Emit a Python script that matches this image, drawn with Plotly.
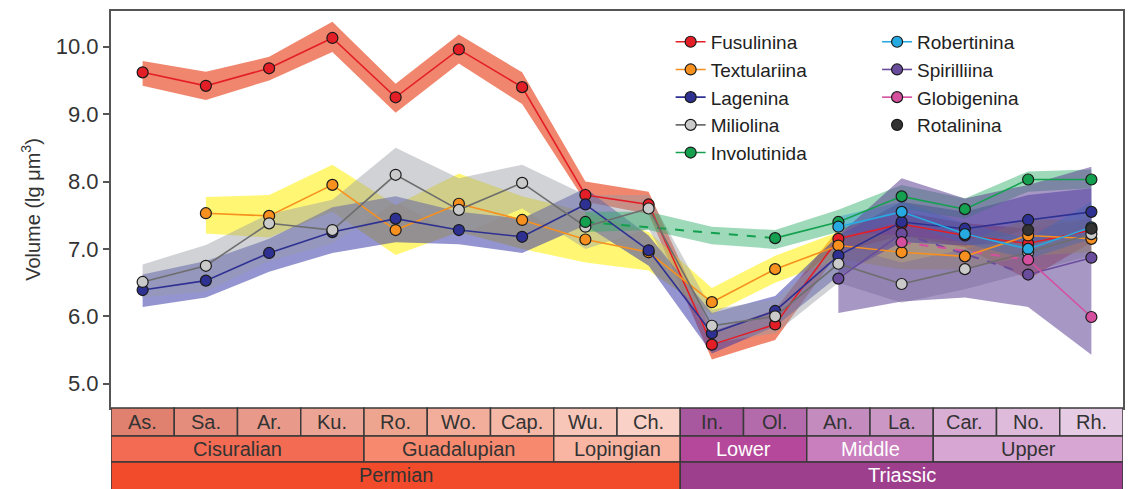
import plotly.graph_objects as go

# ---------------- data ----------------
stages = ["As.", "Sa.", "Ar.", "Ku.", "Ro.", "Wo.", "Cap.", "Wu.", "Ch.",
          "In.", "Ol.", "An.", "La.", "Car.", "No.", "Rh."]
epochs = ["Cisuralian", "Guadalupian", "Lopingian", "Lower", "Middle", "Upper"]
epoch_spans = [(0, 3), (4, 6), (7, 8), (9, 10), (11, 12), (13, 15)]
periods = ["Permian", "Triassic"]
period_spans = [(0, 8), (9, 15)]
yticks = [5.0, 6.0, 7.0, 8.0, 9.0, 10.0]

N = None
fus_mean = [9.62, 9.42, 9.68, 10.13, 9.25, 9.96, 9.40, 7.80, 7.66, 5.58, 5.88, 7.15, 7.37, 7.20, 7.08, 7.28]
fus_lo   = [9.42, 9.21, 9.50, 9.92, 9.02, 9.75, 9.15, 7.70, 7.52, 5.36, 5.65, 6.95, 7.20, 7.02, 6.55, 7.10]
fus_hi   = [9.79, 9.63, 9.85, 10.37, 9.45, 10.18, 9.62, 8.00, 7.85, 5.78, 6.10, 7.30, 7.55, 7.38, 7.30, 7.45]

tex_mean = [N, 7.53, 7.49, 7.95, 7.28, 7.67, 7.43, 7.14, 6.95, 6.21, 6.70, 7.05, 6.95, 6.89, 7.20, 7.15]
tex_lo   = [N, 7.23, 7.17, 7.55, 6.91, 7.25, 7.00, 6.80, 6.68, 6.03, 6.50, 6.85, 6.70, 6.70, 6.90, 6.95]
tex_hi   = [N, 7.77, 7.80, 8.25, 7.65, 8.12, 7.78, 7.55, 7.25, 6.42, 6.90, 7.25, 7.20, 7.10, 7.45, 7.40]

lag_mean = [6.39, 6.53, 6.94, 7.25, 7.45, 7.28, 7.18, 7.66, 6.98, 5.75, 6.08, 6.90, 7.40, 7.30, 7.43, 7.55]
lag_lo   = [6.14, 6.28, 6.66, 6.94, 7.10, 7.07, 6.94, 7.35, 6.75, 5.45, 5.85, 6.60, 7.10, 7.05, 7.10, 7.20]
lag_hi   = [6.62, 6.82, 7.15, 7.62, 7.78, 7.55, 7.45, 7.90, 7.20, 6.05, 6.30, 7.20, 7.70, 7.55, 7.80, 7.90]

mil_mean = [6.51, 6.75, 7.38, 7.28, 8.10, 7.58, 7.98, 7.33, 7.60, 5.86, 6.00, 6.78, 6.48, 6.70, 6.95, 7.22]
mil_lo   = [6.28, 6.37, 6.82, 7.08, 7.70, 7.20, 7.60, 7.00, 7.30, 5.60, 5.75, 6.50, 6.20, 6.40, 6.65, 6.90]
mil_hi   = [6.77, 7.06, 7.52, 7.73, 8.50, 8.05, 8.25, 7.80, 7.80, 6.10, 6.25, 7.05, 6.80, 7.00, 7.30, 7.50]

inv_mean = [N, N, N, N, N, N, N, 7.40, N, N, 7.16, 7.40, 7.78, 7.59, 8.03, 8.03]
inv_lo   = [N, N, N, N, N, N, N, 7.25, 7.28, 7.07, 7.00, 7.25, 7.60, 7.45, 7.85, 7.90]
inv_hi   = [N, N, N, N, N, N, N, 7.55, 7.55, 7.33, 7.28, 7.58, 7.95, 7.75, 8.15, 8.18]

rob_mean = [N] * 11 + [7.33, 7.55, 7.22, 7.00, 7.32]
rob_lo   = [N] * 11 + [7.18, 7.40, 7.08, 6.85, 7.15]
rob_hi   = [N] * 11 + [7.48, 7.70, 7.38, 7.15, 7.70]

spi_mean = [N] * 11 + [6.56, 7.23, N, 6.62, 6.87]
spi_lo   = [N] * 11 + [6.05, 6.22, 6.28, 6.14, 5.43]
spi_hi   = [N] * 11 + [7.20, 8.05, 7.75, 7.95, 8.22]

glo_mean = [N] * 12 + [7.10, N, 6.84, 5.99]

rot_mean = [N] * 14 + [7.28, 7.30]

# ---------------- styling ----------------
FONT = "Liberation Sans, Arial, sans-serif"
x_idx = list(range(len(stages)))

series = [
    dict(name="Fusulinina", mean=fus_mean, lo=fus_lo, hi=fus_hi, line="#E41E26", fill="#E41E26",
         band="rgba(234,88,52,0.72)", legend="legend"),
    dict(name="Textulariina", mean=tex_mean, lo=tex_lo, hi=tex_hi, line="#F7901E", fill="#F7901E",
         band="rgba(255,240,0,0.55)", legend="legend"),
    dict(name="Lagenina", mean=lag_mean, lo=lag_lo, hi=lag_hi, line="#2E3192", fill="#2E3192",
         band="rgba(60,60,170,0.55)", legend="legend"),
    dict(name="Miliolina", mean=mil_mean, lo=mil_lo, hi=mil_hi, line="#6E6E6E", fill="#CACACA",
         band="rgba(150,155,165,0.45)", legend="legend"),
    dict(name="Involutinida", mean=inv_mean, lo=inv_lo, hi=inv_hi, line="#14A04F", fill="#14A04F",
         band="rgba(40,170,100,0.45)", legend="legend"),
    dict(name="Robertinina", mean=rob_mean, lo=rob_lo, hi=rob_hi, line="#27AAE1", fill="#27AAE1",
         band="rgba(30,150,220,0.40)", legend="legend2"),
    dict(name="Spirilliina", mean=spi_mean, lo=spi_lo, hi=spi_hi, line="#6A4C9C", fill="#6A4C9C",
         band="rgba(95,65,150,0.55)", legend="legend2"),
    dict(name="Globigenina", mean=glo_mean, lo=None, hi=None, line="#D4509F", fill="#D4509F",
         band=None, legend="legend2"),
]

fig = go.Figure()

# confidence bands
for s in series:
    if s["lo"] is None:
        continue
    xs = [i for i in x_idx if s["lo"][i] is not None]
    up = [s["hi"][i] for i in xs]
    dn = [s["lo"][i] for i in xs]
    fig.add_trace(go.Scatter(
        x=xs + xs[::-1], y=up + dn[::-1], fill="toself", mode="lines",
        line=dict(width=0), fillcolor=s["band"], showlegend=False, hoverinfo="skip"))

# dashed bridges over gaps
for s in series:
    valid = [i for i in x_idx if s["mean"][i] is not None]
    for a, b in zip(valid[:-1], valid[1:]):
        if b - a > 1:
            fig.add_trace(go.Scatter(
                x=[a, b], y=[s["mean"][a], s["mean"][b]], mode="lines",
                line=dict(color=s["line"], width=2, dash="dash"),
                showlegend=False, hoverinfo="skip"))

# main lines
for s in series:
    fig.add_trace(go.Scatter(
        x=x_idx, y=s["mean"], name=s["name"], mode="lines+markers",
        line=dict(color=s["line"], width=1.6),
        marker=dict(size=11, color=s["fill"], line=dict(color="#1a1a1a", width=1.2)),
        legend=s["legend"]))

fig.add_trace(go.Scatter(
    x=x_idx, y=rot_mean, name="Rotalinina", mode="markers",
    marker=dict(size=11, color="#333333", line=dict(color="#1a1a1a", width=1.2)),
    legend="legend2"))

# ---------------- geological time scale ----------------
stage_colors = ["#E0806E", "#E58D7D", "#E9998A", "#ECA494", "#EEA58F", "#F2AE9B", "#F5B7A6", "#F8C6B9", "#FAD1C6",
                "#A8589E", "#B46BAB", "#C48BBF", "#CB98C6", "#D8AED5", "#DEBADB", "#E6CBE4"]
epoch_colors = ["#F26B52", "#F6896E", "#F9B5A1", "#B5489A", "#C97EBE", "#D8A6D2"]
epoch_text = ["#333333", "#333333", "#333333", "#FFFFFF", "#FFFFFF", "#333333"]
period_colors = ["#F24B2B", "#9E3F8E"]
period_text = ["#333333", "#FFFFFF"]

PH = 397.0
r1 = (-28 / PH, 0.0)
r2 = (-54 / PH, -28 / PH)
r3 = (-100 / PH, -54 / PH)
border = dict(color="#3a3a3a", width=1.5)

shapes = []
annotations = []
for i, (lab, col) in enumerate(zip(stages, stage_colors)):
    shapes.append(dict(type="rect", xref="x", yref="paper", x0=i - 0.5, x1=i + 0.5,
                       y0=r1[0], y1=r1[1], fillcolor=col, line=border, layer="above"))
    annotations.append(dict(xref="x", yref="paper", x=i, y=(r1[0] + r1[1]) / 2, text=lab,
                            showarrow=False, font=dict(size=20, color="#333333", family=FONT),
                            yanchor="middle"))
for lab, (a, b), col, tc in zip(epochs, epoch_spans, epoch_colors, epoch_text):
    shapes.append(dict(type="rect", xref="x", yref="paper", x0=a - 0.5, x1=b + 0.5,
                       y0=r2[0], y1=r2[1], fillcolor=col, line=border, layer="above"))
    annotations.append(dict(xref="x", yref="paper", x=(a + b) / 2, y=(r2[0] + r2[1]) / 2, text=lab,
                            showarrow=False, font=dict(size=20, color=tc, family=FONT),
                            yanchor="middle"))
for lab, (a, b), col, tc in zip(periods, period_spans, period_colors, period_text):
    shapes.append(dict(type="rect", xref="x", yref="paper", x0=a - 0.5, x1=b + 0.5,
                       y0=r3[0], y1=r3[1], fillcolor=col, line=border, layer="above"))
    annotations.append(dict(xref="x", yref="paper", x=(a + b) / 2, y=-67 / PH, text=lab,
                            showarrow=False, font=dict(size=20, color=tc, family=FONT),
                            yanchor="middle"))

legend_common = dict(font=dict(size=19, color="#222222", family=FONT), bgcolor="rgba(0,0,0,0)",
                     tracegroupgap=0, itemwidth=30, xanchor="left", yanchor="top")

fig.update_layout(
    width=1131, height=489,
    margin=dict(l=111, r=6, t=11, b=81),
    paper_bgcolor="white", plot_bgcolor="white",
    font=dict(family=FONT, color="#333333"),
    showlegend=True,
    legend=dict(x=0.553, y=0.97, **legend_common),
    legend2=dict(x=0.757, y=0.97, **legend_common),
    xaxis=dict(range=[-0.5, 15.5], showticklabels=False, ticks="", showgrid=False, zeroline=False,
               showline=True, linecolor="#555555", linewidth=2, mirror=True),
    yaxis=dict(range=[4.64, 10.53], tickvals=yticks, tickformat=".1f", ticks="outside", ticklen=6,
               tickwidth=1.5, tickcolor="#555555", showgrid=False, zeroline=False,
               showline=True, linecolor="#555555", linewidth=2, mirror=True,
               tickfont=dict(size=22, color="#333333", family=FONT),
               title=dict(text="Volume (lg μm<sup>3</sup>)", font=dict(size=20, color="#333333", family=FONT),
                          standoff=10)),
    shapes=shapes,
    annotations=annotations,
)

fig.write_html("out.html")
